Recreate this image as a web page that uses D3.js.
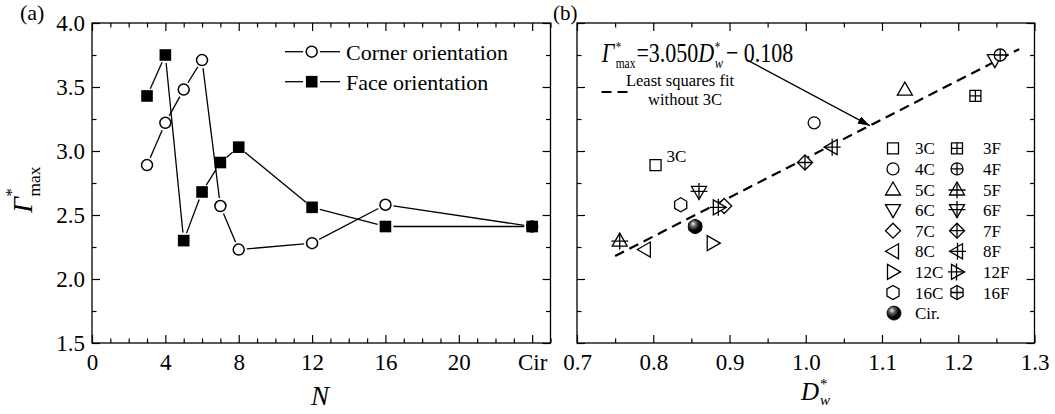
<!DOCTYPE html>
<html>
<head>
<meta charset="utf-8">
<script src="https://cdn.jsdelivr.net/npm/d3@7"></script>
<style>
  body { margin: 0; background: #fff; }
  text { font-family: "Liberation Serif", "Times New Roman", serif; fill: #000; }
</style>
</head>
<body>
<svg id="chart" width="1055" height="414"></svg>
<script>
// ---- data ----
// Number of polygon sides N; the circular cylinder ("Cir") sits at 24 on the N axis
const nLabels    = ["3", "4", "5", "6", "7", "8", "12", "16", "Cir"];
const nPositions = [3, 4, 5, 6, 7, 8, 12, 16, 24];
const cornerGamma = [2.89, 3.22, 3.48, 3.71, 2.57, 2.23, 2.28, 2.58, 2.41];
const faceGamma   = [3.43, 3.75, 2.30, 2.68, 2.91, 3.03, 2.56, 2.41, 2.41];

// Wake width D_w* for the polygon cases (same order as nLabels, without Cir)
const cornerDw = [0.803, 1.011, 1.130, 1.248, 0.893, 0.789, 0.878, 0.836];
const faceDw   = [1.2225, 1.255, 0.756, 0.860, 0.999, 1.034, 0.886, 0.855];
const cirDw = 0.855;
const caseShapes = ["square", "circle", "triUp", "triDown", "diamond", "triLeft", "triRight", "hexagon"];

// Axis ticks
const nTickValues = [0, 4, 8, 12, 16, 20, 24];
const nTickLabels = ["0", "4", "8", "12", "16", "20", "Cir"];
const gammaTicks  = [1.5, 2.0, 2.5, 3.0, 3.5, 4.0];
const dwTicks     = [0.7, 0.8, 0.9, 1.0, 1.1, 1.2, 1.3];

// Least squares fit (3C excluded)
const fitSlope = 3.050;
const fitIntercept = -0.108;
const fitRange = [0.75, 1.28];
const arrowStart = [0.9215, 3.716];
const arrowTipDw = 1.084;

// ---- layout ----
const svg = d3.select("#chart");
const yTop = 23, yBot = 343;
const xN = d3.scaleLinear().domain([0, 25]).range([92, 550.5]);
const xD = d3.scaleLinear().domain([0.7, 1.3]).range([577, 1034.5]);
const y  = d3.scaleLinear().domain([1.5, 4.0]).range([yBot, yTop]);

const MAJOR = 8, MINOR = 4.5;

function range(a, b, step) {
  const out = [];
  for (let v = a; v <= b + 1e-9; v += step) out.push(+v.toFixed(4));
  return out;
}

function drawFrame(xs) {
  const [x0, x1] = xs.range();
  svg.append("rect")
    .attr("x", x0).attr("y", yTop)
    .attr("width", x1 - x0).attr("height", yBot - yTop)
    .attr("fill", "none").attr("stroke", "#000").attr("stroke-width", 1.3);
}

function styleAxis(g, labelSize) {
  g.select(".domain").remove();
  g.selectAll(".tick line").attr("stroke", "#000").attr("stroke-width", 1.2);
  g.selectAll(".tick text")
    .style("font-family", '"Liberation Serif", "Times New Roman", serif')
    .style("font-size", (labelSize || 23) + "px")
    .attr("fill", "#000");
}

function drawTicks(xs, majorX, minorX, xFormat, yLabels) {
  const majorY = gammaTicks;
  const minorY = range(1.5, 4.0, 0.25).filter(v => !majorY.some(m => Math.abs(m - v) < 1e-6));
  const minX = minorX.filter(v => !majorX.some(m => Math.abs(m - v) < 1e-6));
  const [x0, x1] = xs.range();

  // bottom
  svg.append("g").attr("transform", `translate(0,${yBot})`)
    .call(d3.axisBottom(xs).tickValues(majorX).tickSize(-MAJOR).tickPadding(11).tickFormat(xFormat))
    .call(g => styleAxis(g));
  svg.append("g").attr("transform", `translate(0,${yBot})`)
    .call(d3.axisBottom(xs).tickValues(minX).tickSize(-MINOR).tickFormat(""))
    .call(g => styleAxis(g));
  // top
  svg.append("g").attr("transform", `translate(0,${yTop})`)
    .call(d3.axisTop(xs).tickValues(majorX).tickSize(-MAJOR).tickFormat(""))
    .call(g => styleAxis(g));
  svg.append("g").attr("transform", `translate(0,${yTop})`)
    .call(d3.axisTop(xs).tickValues(minX).tickSize(-MINOR).tickFormat(""))
    .call(g => styleAxis(g));
  // left
  svg.append("g").attr("transform", `translate(${x0},0)`)
    .call(d3.axisLeft(y).tickValues(majorY).tickSize(-MAJOR).tickPadding(7)
      .tickFormat(yLabels ? d3.format(".1f") : ""))
    .call(g => styleAxis(g));
  svg.append("g").attr("transform", `translate(${x0},0)`)
    .call(d3.axisLeft(y).tickValues(minorY).tickSize(-MINOR).tickFormat(""))
    .call(g => styleAxis(g));
  // right
  svg.append("g").attr("transform", `translate(${x1},0)`)
    .call(d3.axisRight(y).tickValues(majorY).tickSize(-MAJOR).tickFormat(""))
    .call(g => styleAxis(g));
  svg.append("g").attr("transform", `translate(${x1},0)`)
    .call(d3.axisRight(y).tickValues(minorY).tickSize(-MINOR).tickFormat(""))
    .call(g => styleAxis(g));
}

// One text element built from tspans, with stacked super/subscripts, laid out left to right
function mathText(g, parts, fs) {
  const measure = (str, size, italic) => {
    const t = g.append("text").style("font-size", size + "px")
      .style("font-style", italic ? "italic" : null).text(str);
    const w = t.node().getComputedTextLength();
    t.remove();
    return w;
  };
  const text = g.append("text");
  let x = 0;
  parts.forEach(p => {
    if (p.sup !== undefined) {
      const supFs = (p.supSize || 0.6) * fs, subFs = (p.subSize || 0.62) * fs;
      text.append("tspan").attr("x", x).attr("y", p.supY * fs)
        .style("font-size", supFs + "px").text(p.sup);
      text.append("tspan").attr("x", x).attr("y", p.subY * fs)
        .style("font-size", subFs + "px")
        .style("font-style", p.subItalic ? "italic" : "normal").text(p.sub);
      x += Math.max(measure(p.sup, supFs, false), measure(p.sub, subFs, p.subItalic)) + (p.pad || 1);
    } else {
      text.append("tspan").attr("x", x).attr("y", 0)
        .style("font-size", fs + "px")
        .style("font-style", p.italic ? "italic" : "normal")
        .text(p.t);
      x += measure(p.t, fs, p.italic) + (p.pad || 0);
    }
  });
  return text;
}

// ---- marker shapes ----
function shapePath(type) {
  switch (type) {
    case "square":   return "M-5.5,-5.5H5.5V5.5H-5.5Z";
    case "circle":   return "M6,0A6,6 0 1 1 -6,0A6,6 0 1 1 6,0Z";
    case "triUp":    return "M0,-7.5L7.5,5.5L-7.5,5.5Z";
    case "triDown":  return "M0,7.5L7.5,-5.5L-7.5,-5.5Z";
    case "triLeft":  return "M-7.5,0L5.5,-7.5L5.5,7.5Z";
    case "triRight": return "M7.5,0L-5.5,-7.5L-5.5,7.5Z";
    case "diamond":  return "M0,-7.5L7.5,0L0,7.5L-7.5,0Z";
    case "hexagon": {
      const r = 7;
      const pts = d3.range(6).map(i => {
        const a = (-90 + 60 * i) * Math.PI / 180;
        return [r * Math.cos(a), r * Math.sin(a)];
      });
      return "M" + pts.map(p => p[0].toFixed(2) + "," + p[1].toFixed(2)).join("L") + "Z";
    }
  }
}
function crossPath(type) {
  switch (type) {
    case "square":   return "M-5.5,0H5.5M0,-5.5V5.5";
    case "circle":   return "M-6,0H6M0,-6V6";
    case "diamond":  return "M-7.5,0H7.5M0,-7.5V7.5";
    case "hexagon":  return "M-6.06,0H6.06M0,-7V7";
    case "triUp":    return "M-8.5,0.5H8.5M0,-7.5V9";
    case "triDown":  return "M-8.5,-0.5H8.5M0,-9V7.5";
    case "triLeft":  return "M0.5,-8.5V8.5M-7.5,0H9";
    case "triRight": return "M-0.5,-8.5V8.5M-9,0H7.5";
  }
}
function drawMarker(g, type, cx, cy, withCross) {
  const m = g.append("g").attr("transform", `translate(${cx},${cy})`);
  m.append("path").attr("d", shapePath(type))
    .attr("fill", "#fff").attr("stroke", "#000").attr("stroke-width", 1.3);
  if (withCross) {
    m.append("path").attr("d", crossPath(type))
      .attr("fill", "none").attr("stroke", "#000").attr("stroke-width", 1.3);
  }
}

// shaded sphere for the circular cylinder
const defs = svg.append("defs");
const grad = defs.append("radialGradient").attr("id", "ball")
  .attr("cx", "38%").attr("cy", "35%").attr("r", "65%").attr("fx", "35%").attr("fy", "30%");
grad.append("stop").attr("offset", "0%").attr("stop-color", "#f2f2f2");
grad.append("stop").attr("offset", "30%").attr("stop-color", "#6a6a6a");
grad.append("stop").attr("offset", "70%").attr("stop-color", "#000");
function drawBall(g, cx, cy) {
  g.append("circle").attr("cx", cx).attr("cy", cy).attr("r", 7)
    .attr("fill", "url(#ball)").attr("stroke", "#000").attr("stroke-width", 0.8);
}

// ================= panel (a) =================
drawFrame(xN);
drawTicks(xN, nTickValues, range(0, 25, 1), (d, i) => nTickLabels[i], true);

// Lines with a small gap before each symbol
function gappedLine(g, pts, gap) {
  for (let i = 0; i < pts.length - 1; i++) {
    const [x1, y1] = pts[i], [x2, y2] = pts[i + 1];
    const dx = x2 - x1, dy = y2 - y1, L = Math.hypot(dx, dy);
    if (L <= 2 * gap) continue;
    const ux = dx / L, uy = dy / L;
    g.append("line")
      .attr("x1", x1 + ux * gap).attr("y1", y1 + uy * gap)
      .attr("x2", x2 - ux * gap).attr("y2", y2 - uy * gap)
      .attr("stroke", "#000").attr("stroke-width", 1.3);
  }
}

const pa = svg.append("g");
const cornerPts = nPositions.map((n, i) => [xN(n), y(cornerGamma[i])]);
const facePts   = nPositions.map((n, i) => [xN(n), y(faceGamma[i])]);
gappedLine(pa, cornerPts, 8);
gappedLine(pa, facePts, 8);
cornerPts.forEach(p => {
  pa.append("circle").attr("cx", p[0]).attr("cy", p[1]).attr("r", 5.5)
    .attr("fill", "#fff").attr("stroke", "#000").attr("stroke-width", 1.5);
});
facePts.forEach(p => {
  pa.append("rect").attr("x", p[0] - 5.8).attr("y", p[1] - 5.8)
    .attr("width", 11.6).attr("height", 11.6).attr("fill", "#000");
});

// legend of panel (a)
const legA = svg.append("g");
[["Corner orientation", "circle", 51.7], ["Face orientation", "square", 81.7]].forEach(([label, kind, ly]) => {
  legA.append("line").attr("x1", 285).attr("x2", 303).attr("y1", ly).attr("y2", ly)
    .attr("stroke", "#000").attr("stroke-width", 1.3);
  legA.append("line").attr("x1", 320).attr("x2", 340).attr("y1", ly).attr("y2", ly)
    .attr("stroke", "#000").attr("stroke-width", 1.3);
  if (kind === "circle") {
    legA.append("circle").attr("cx", 311.7).attr("cy", ly).attr("r", 5.5)
      .attr("fill", "#fff").attr("stroke", "#000").attr("stroke-width", 1.5);
  } else {
    legA.append("rect").attr("x", 311.7 - 5.8).attr("y", ly - 5.8)
      .attr("width", 11.6).attr("height", 11.6).attr("fill", "#000");
  }
  legA.append("text").attr("x", 346).attr("y", ly + 8).style("font-size", "22px").text(label);
});

// axis titles of panel (a)
svg.append("text").attr("x", 320).attr("y", 405).attr("text-anchor", "middle")
  .style("font-size", "27px").style("font-style", "italic").text("N");
const yl = svg.append("g").attr("transform", "translate(32,213) rotate(-90)");
mathText(yl, [
  { t: "\u0393", italic: true, pad: 0.5 },
  { sup: "*", sub: "max", supY: -0.55, subY: 0.3, supSize: 0.6, subSize: 0.62 }
], 28);
svg.append("text").attr("x", 20).attr("y", 20).style("font-size", "22px").text("(a)");

// ================= panel (b) =================
drawFrame(xD);
drawTicks(xD, dwTicks, range(0.7, 1.3, 0.05), d3.format(".1f"), false);

const pb = svg.append("g");

// fitted line
pb.append("line")
  .attr("x1", xD(fitRange[0])).attr("y1", y(fitSlope * fitRange[0] + fitIntercept))
  .attr("x2", xD(fitRange[1])).attr("y2", y(fitSlope * fitRange[1] + fitIntercept))
  .attr("stroke", "#000").attr("stroke-width", 2.2).attr("stroke-dasharray", "10,6");

// symbols: 16F lies under the Cir ball
cornerDw.forEach((d, i) => drawMarker(pb, caseShapes[i], xD(d), y(cornerGamma[i]), false));
faceDw.forEach((d, i) => drawMarker(pb, caseShapes[i], xD(d), y(faceGamma[i]), true));
drawBall(pb, xD(cirDw), y(cornerGamma[8]));

// label next to the excluded point
pb.append("text").attr("x", xD(cornerDw[0]) + 11).attr("y", y(cornerGamma[0]) - 3)
  .style("font-size", "17px").text("3C");

// equation and arrow
const ax1 = xD(arrowStart[0]), ay1 = y(arrowStart[1]);
const ax2 = xD(arrowTipDw), ay2 = y(fitSlope * arrowTipDw + fitIntercept);
defs.append("marker").attr("id", "arrowHead")
  .attr("viewBox", "0 0 12 8").attr("refX", 12).attr("refY", 4)
  .attr("markerWidth", 12).attr("markerHeight", 8).attr("markerUnits", "userSpaceOnUse")
  .attr("orient", "auto")
  .append("path").attr("d", "M0,0L12,4L0,8Z").attr("fill", "#000");
pb.append("line").attr("x1", ax1).attr("y1", ay1).attr("x2", ax2).attr("y2", ay2)
  .attr("stroke", "#000").attr("stroke-width", 1.2).attr("marker-end", "url(#arrowHead)");

const eq = svg.append("g").attr("transform", "translate(601.7,62) scale(1,1.25)");
mathText(eq, [
  { t: "\u0393", italic: true, pad: 1.5 },
  { sup: "*", sub: "max", supY: -0.36, subY: 0.22, supSize: 0.5, subSize: 0.52, pad: 1 },
  { t: "=3.050" },
  { t: "D", italic: true, pad: 0.5 },
  { sup: "*", sub: "w", supY: -0.36, subY: 0.22, supSize: 0.5, subSize: 0.56, subItalic: true, pad: 3 },
  { t: "\u2212 0.108" }
], 22);

// fit legend
svg.append("line").attr("x1", 601.5).attr("x2", 628).attr("y1", 92).attr("y2", 92)
  .attr("stroke", "#000").attr("stroke-width", 2.2).attr("stroke-dasharray", "10,6");
svg.append("text").attr("x", 680).attr("y", 86).attr("text-anchor", "middle")
  .style("font-size", "16.5px").text("Least squares fit");
svg.append("text").attr("x", 685).attr("y", 104.5).attr("text-anchor", "middle")
  .style("font-size", "16.5px").text("without 3C");

// symbol legend
const legB = svg.append("g");
const rowY0 = 148.3, rowStep = 20.6;
nLabels.slice(0, 8).forEach((n, i) => {
  const ry = rowY0 + i * rowStep;
  drawMarker(legB, caseShapes[i], 893, ry, false);
  legB.append("text").attr("x", 915).attr("y", ry + 6).style("font-size", "17px").text(n + "C");
  drawMarker(legB, caseShapes[i], 957, ry, true);
  legB.append("text").attr("x", 983).attr("y", ry + 6).style("font-size", "17px").text(n + "F");
});
const cirRow = rowY0 + 8 * rowStep;
drawBall(legB, 894, cirRow);
legB.append("text").attr("x", 915).attr("y", cirRow + 6).style("font-size", "17px").text("Cir.");

// axis title of panel (b)
const xl = svg.append("g").attr("transform", "translate(801,400)");
mathText(xl, [
  { t: "D", italic: true, pad: 1 },
  { sup: "*", sub: "w", supY: -0.45, subY: 0.2, supSize: 0.6, subSize: 0.6, subItalic: true }
], 25);
svg.append("text").attr("x", 553).attr("y", 20).style("font-size", "21px").text("(b)");
</script>
</body>
</html>
